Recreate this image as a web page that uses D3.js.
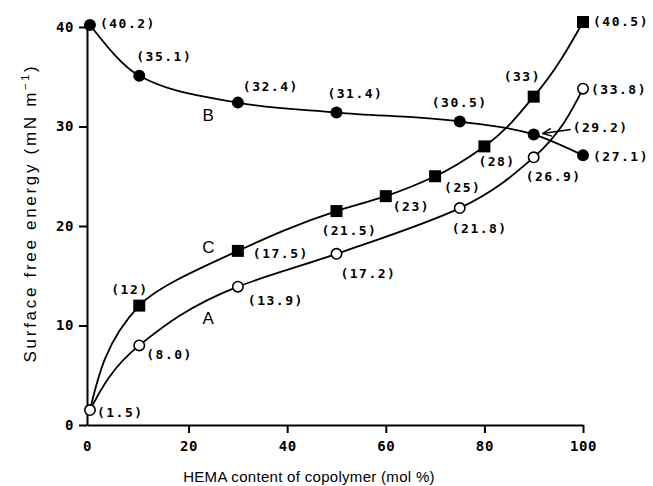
<!DOCTYPE html>
<html>
<head>
<meta charset="utf-8">
<script src="https://cdn.jsdelivr.net/npm/d3@7"></script>
<style>
  body { margin: 0; background: #fff; }
  .val { font-family: "DejaVu Sans Mono", monospace; font-size: 13px; letter-spacing: 1.5px; font-weight: bold; }
  .tick text { font-family: "DejaVu Sans Mono", monospace; font-size: 14px; letter-spacing: 0.6px; font-weight: bold; }
  .xtitle { font-family: "Liberation Sans", Arial, sans-serif; font-size: 15px; letter-spacing: 0.3px; }
  .ytitle { font-family: "Liberation Sans", Arial, sans-serif; font-size: 17px; letter-spacing: 2.7px; }
  .curveName { font-family: "Liberation Sans", Arial, sans-serif; font-size: 17px; }
</style>
</head>
<body>
<div id="chart"></div>
<script>
// HEMA content (mol %) and surface free energy (mN m-1)
const aX = [0, 10, 30, 50, 75, 90, 100]
const aY = [1.5, 8.0, 13.9, 17.2, 21.8, 26.9, 33.8]
const bX = [0, 10, 30, 50, 75, 90, 100]
const bY = [40.2, 35.1, 32.4, 31.4, 30.5, 29.2, 27.1]
const cX = [10, 30, 50, 60, 70, 80, 90, 100]
const cY = [12, 17.5, 21.5, 23, 25, 28, 33, 40.5]
const xTicks = [0, 20, 40, 60, 80, 100]
const yTicks = [0, 10, 20, 30, 40]
const curveNames = ['A', 'B', 'C']
const curveNameAt = [[24, 10.6], [24, 31.0], [24, 17.7]]

// label offsets in px from each point
const aOff = [[7, 3], [7, 10], [10, 15], [4, 21], [-8, 21], [-8, 20], [8, 2]]
const bOff = [[10, -1], [-3, -18], [5, -15], [-9, -18], [-28, -18], [39, -6], [10, 2]]
const cOff = [[-28, -15], [15, 4], [-15, 20], [7, 11], [9, 12], [-6, 16], [-30, -19], [10, 0]]

const width = 653, height = 486
const svg = d3.select('#chart').append('svg')
    .attr('width', width)
    .attr('height', height)

const x = d3.scaleLinear().domain([-0.6, 100]).range([87, 583])
const y = d3.scaleLinear().domain([0, 40]).range([425, 27])

const xAxis = d3.axisBottom(x).tickValues(xTicks).tickSize(8).tickSizeOuter(0).tickPadding(6)
const yAxis = d3.axisLeft(y).tickValues(yTicks).tickSize(8).tickSizeOuter(0).tickPadding(5)

const gx = svg.append('g').attr('transform', 'translate(0,' + y(0) + ')').call(xAxis)
const gy = svg.append('g').attr('transform', 'translate(' + x.range()[0] + ',0)').call(yAxis)
svg.selectAll('.domain').attr('stroke', '#000').attr('stroke-width', 2)
svg.selectAll('.tick line').attr('stroke', '#000').attr('stroke-width', 2)
svg.selectAll('.tick text').attr('fill', '#000')
gx.selectAll('.tick text').attr('dy', '0.85em')
gx.selectAll('.tick').filter(d => d === 0).select('line').remove()
gx.selectAll('.tick').filter(d => d === 0).select('text').attr('x', -3)

const zip = (xs, ys) => xs.map((v, i) => [v, ys[i]])
const A = zip(aX, aY), B = zip(bX, bY), C = zip(cX, cY)

// A and C rise steeply from the origin, so smooth them along y
const riseLine = d3.line()
    .x(d => x(d[0]))
    .y(d => y(d[1]))
    .curve(d3.curveMonotoneY)
const fallLine = d3.line()
    .x(d => x(d[0]))
    .y(d => y(d[1]))
    .curve(d3.curveMonotoneX)

// curve C also starts from the origin point of A
const curves = [[A, riseLine], [B, fallLine], [[A[0]].concat(C), riseLine]]
svg.selectAll('path.curve')
    .data(curves)
    .enter().append('path')
    .attr('class', 'curve')
    .attr('d', d => d[1](d[0]))
    .attr('fill', 'none')
    .attr('stroke', '#000')
    .attr('stroke-width', 1.8)

// arrow pointing to the (29.2) point
svg.append('defs').append('marker')
    .attr('id', 'arr')
    .attr('viewBox', '0 0 10 10')
    .attr('refX', 9).attr('refY', 5)
    .attr('markerWidth', 7).attr('markerHeight', 7)
    .attr('orient', 'auto')
    .append('path')
    .attr('d', 'M0,1 L9,5 L0,9')
    .attr('fill', 'none')
    .attr('stroke', '#000')
    .attr('stroke-width', 1.4)
svg.append('line')
    .attr('x1', x(bX[5]) + 37).attr('y1', y(bY[5]) - 5)
    .attr('x2', x(bX[5]) + 9).attr('y2', y(bY[5]) - 1)
    .attr('stroke', '#000')
    .attr('stroke-width', 1.4)
    .attr('marker-end', 'url(#arr)')

// markers
svg.selectAll('circle.b').data(B).enter().append('circle')
    .attr('cx', d => x(d[0])).attr('cy', d => y(d[1]))
    .attr('r', 6).attr('fill', '#000')
svg.selectAll('circle.a').data(A).enter().append('circle')
    .attr('cx', d => x(d[0])).attr('cy', d => y(d[1]))
    .attr('r', 5.2).attr('fill', '#fff').attr('stroke', '#000').attr('stroke-width', 1.6)
svg.selectAll('rect.c').data(C).enter().append('rect')
    .attr('x', d => x(d[0]) - 6).attr('y', d => y(d[1]) - 6)
    .attr('width', 12).attr('height', 12).attr('fill', '#000')

// value labels
function labels(pts, offs, fmt) {
    svg.append('g').selectAll('text').data(pts).enter().append('text')
        .attr('class', 'val')
        .attr('x', (d, i) => x(d[0]) + offs[i][0])
        .attr('y', (d, i) => y(d[1]) + offs[i][1])
        .attr('dominant-baseline', 'middle')
        .text(d => '(' + fmt(d[1]) + ')')
}
labels(A, aOff, v => v.toFixed(1))
labels(B, bOff, v => v.toFixed(1))
labels(C, cOff, v => String(v))

svg.selectAll('text.curveName').data(curveNames).enter().append('text')
    .attr('class', 'curveName')
    .attr('x', (d, i) => x(curveNameAt[i][0]))
    .attr('y', (d, i) => y(curveNameAt[i][1]))
    .attr('text-anchor', 'middle')
    .attr('dominant-baseline', 'middle')
    .text(d => d)

// axis titles
svg.append('text')
    .attr('class', 'xtitle')
    .attr('x', 309).attr('y', 482)
    .attr('text-anchor', 'middle')
    .text('HEMA content of copolymer (mol %)')

const yt = svg.append('text')
    .attr('class', 'ytitle')
    .attr('transform', 'translate(36,213) rotate(-90)')
    .attr('text-anchor', 'middle')
yt.append('tspan').text('Surface free energy (mN m')
yt.append('tspan').attr('dy', -7).attr('font-size', 11).text('\u22121')
yt.append('tspan').attr('dy', 7).text(')')
</script>
</body>
</html>
